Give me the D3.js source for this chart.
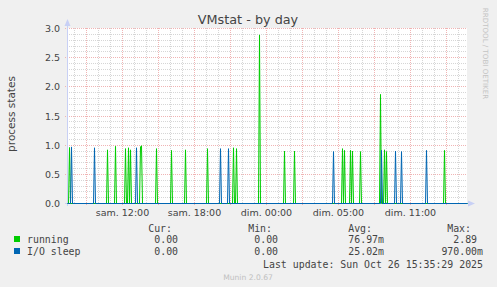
<!DOCTYPE html>
<html>
<head>
<meta charset="utf-8">
<script src="https://cdn.jsdelivr.net/npm/d3@7"></script>
<style>
  html, body { margin: 0; padding: 0; background: #f0f0f0; }
  svg { display: block; }
  text { font-family: "DejaVu Sans", sans-serif; fill: #444; }
  .mono { font-family: "DejaVu Sans Mono", monospace; font-size: 9.9px; }
</style>
</head>
<body>
<svg id="chart" width="497" height="287"></svg>
<script>
// Chart data (hours are counted from saturday 00:00, continuous)
const titleText = "VMstat - by day";
const yLabel = "process states";
const yTicks = [0, 0.5, 1, 1.5, 2, 2.5, 3];
const xTickHours = [12, 18, 24, 30, 36];
const xTickLabels = ["sam. 12:00", "sam. 18:00", "dim. 00:00", "dim. 05:00", "dim. 11:00"];

const runningTimes = [7.61, 10.775, 11.44, 12.275, 12.525, 12.69, 13.525, 13.61, 14.86, 16.11,
  17.275, 19.11, 21.275, 21.525, 23.44, 25.525, 26.36, 30.36, 30.525, 31.025,
  31.19, 31.86, 33.525, 33.86, 34.0, 38.81];
const runningValues = [0.96, 0.92, 0.98, 0.94, 0.955, 0.92, 0.97, 0.99, 0.94, 0.91,
  0.92, 0.94, 0.955, 0.94, 2.89, 0.90, 0.90, 0.94, 0.91, 0.91,
  0.90, 0.89, 1.87, 0.92, 0.89, 0.91];

const ioTimes = [7.775, 9.69, 13.19, 20.19, 20.86, 29.61, 33.61, 34.775, 35.29, 37.36];
const ioValues = [0.97, 0.955, 0.955, 0.94, 0.94, 0.89, 0.91, 0.90, 0.89, 0.91];

const legendNames = ["running", "I/O sleep"];
const legendColors = ["#00cc00", "#0066b3"];
const legendCur = ["0.00\u00a0", "0.00\u00a0"];
const legendMin = ["0.00\u00a0", "0.00\u00a0"];
const legendAvg = ["76.97m", "25.02m"];
const legendMax = ["2.89\u00a0", "970.00m"];

// Layout
const plotLeft = 67, plotRight = 467, plotTop = 28, plotBottom = 203;
const tStart = 7 + 25 / 60;            // left edge of the plot
const step = 1 / 12;                   // one sample = 5 minutes = 1px

const svg = d3.select('#chart');
const x = d3.scaleLinear().domain([tStart, tStart + 400 * step]).range([plotLeft + 0.5, plotRight + 0.5]);
const y = d3.scaleLinear().domain([0, 3]).range([plotBottom + 0.5, plotTop + 0.5]);
const px = v => Math.round(x(v) - 0.5) + 0.5;
const py = v => Math.round(y(v) - 0.5) + 0.5;

// Canvas
svg.append('rect')
  .attr('x', plotLeft).attr('y', plotTop)
  .attr('width', plotRight - plotLeft).attr('height', plotBottom - plotTop)
  .attr('fill', '#ffffff');

// Minor grid
const minorColor = '#d6d6d6', majorColor = '#f0b4b4';
const grid = svg.append('g').attr('shape-rendering', 'crispEdges');
d3.range(8, 41).forEach(h => {
  if (h % 3 === 0) return;
  grid.append('line')
    .attr('x1', px(h)).attr('x2', px(h))
    .attr('y1', plotTop).attr('y2', plotBottom)
    .attr('stroke', minorColor).attr('stroke-dasharray', '1,1');
});
d3.range(1, 30).forEach(i => {
  if (i % 5 === 0) return;
  grid.append('line')
    .attr('x1', plotLeft).attr('x2', plotRight)
    .attr('y1', py(i / 10)).attr('y2', py(i / 10))
    .attr('stroke', minorColor).attr('stroke-dasharray', '1,1');
});

// Major grid
d3.range(9, 41, 3).forEach(h => {
  grid.append('line')
    .attr('x1', px(h)).attr('x2', px(h))
    .attr('y1', plotTop).attr('y2', plotBottom + 3)
    .attr('stroke', majorColor).attr('stroke-dasharray', '1,1');
});
yTicks.forEach(v => {
  if (v === 0) return;
  grid.append('line')
    .attr('x1', plotLeft - 2).attr('x2', plotRight)
    .attr('y1', py(v)).attr('y2', py(v))
    .attr('stroke', majorColor).attr('stroke-dasharray', '1,1');
});

// Axes
const axisColor = '#c8d0f5';
grid.append('line')
  .attr('x1', plotLeft + 0.5).attr('x2', plotLeft + 0.5)
  .attr('y1', plotTop - 4).attr('y2', plotBottom + 3)
  .attr('stroke', axisColor);
grid.append('line')
  .attr('x1', plotLeft - 2).attr('x2', plotRight + 3)
  .attr('y1', plotBottom + 0.5).attr('y2', plotBottom + 0.5)
  .attr('stroke', axisColor);
svg.append('path')
  .attr('d', `M${plotLeft + 0.5},${plotTop - 9} L${plotLeft - 2.5},${plotTop - 2} L${plotLeft + 3.5},${plotTop - 2} Z`)
  .attr('fill', axisColor);
svg.append('path')
  .attr('d', `M${plotRight + 8},${plotBottom + 0.5} L${plotRight + 1},${plotBottom - 2.5} L${plotRight + 1},${plotBottom + 3.5} Z`)
  .attr('fill', axisColor);

// Tick labels
svg.append('g').selectAll('text')
  .data(yTicks)
  .enter().append('text')
  .attr('x', plotLeft - 7)
  .attr('y', d => py(d) + 3.5)
  .attr('text-anchor', 'end')
  .style('font-size', '9.5px')
  .text(d => d.toFixed(1));

svg.append('g').selectAll('text')
  .data(xTickHours)
  .enter().append('text')
  .attr('x', d => px(d))
  .attr('y', 216)
  .attr('text-anchor', 'middle')
  .style('font-size', '9.5px')
  .text((d, i) => xTickLabels[i]);

// Series: samples are zero except at the spikes
function seriesPoints(times, values) {
  const samples = new Map();
  times.forEach((t, i) => samples.set(Math.round((t - tStart) / step), values[i]));
  const idx = new Set([0, 400]);
  samples.forEach((v, k) => { idx.add(k - 1); idx.add(k); idx.add(k + 1); });
  return Array.from(idx).filter(k => k >= 0 && k <= 400).sort((a, b) => a - b)
    .map(k => [tStart + k * step, samples.get(k) || 0]);
}

const line = d3.line().x(d => x(d[0])).y(d => y(d[1]));

svg.append('path')
  .datum(seriesPoints(runningTimes, runningValues))
  .attr('d', line)
  .attr('fill', 'none')
  .attr('stroke', legendColors[0])
  .attr('stroke-width', 1);

svg.append('path')
  .datum(seriesPoints(ioTimes, ioValues))
  .attr('d', line)
  .attr('fill', 'none')
  .attr('stroke', legendColors[1])
  .attr('stroke-width', 1);

// Title and labels
svg.append('text')
  .attr('x', 248).attr('y', 24)
  .attr('text-anchor', 'middle')
  .style('font-size', '12.8px')
  .text(titleText);

svg.append('text')
  .attr('transform', 'translate(14.5,114) rotate(-90)')
  .attr('text-anchor', 'middle')
  .style('font-size', '10.5px')
  .text(yLabel);

svg.append('text')
  .attr('transform', 'translate(482.5,53.5) rotate(90)')
  .attr('text-anchor', 'middle')
  .style('font-size', '7.1px')
  .style('fill', '#c4c4c4')
  .text('RRDTOOL / TOBI OETIKER');

// Legend
const colEnds = [184, 284, 384, 483];
const headers = ["Cur:", "Min:", "Avg:", "Max:"];
headers.forEach((h, i) => {
  svg.append('text').attr('class', 'mono')
    .attr('x', colEnds[i] - 12).attr('y', 232)
    .attr('text-anchor', 'end')
    .text(h);
});

legendNames.forEach((name, i) => {
  const yy = 243 + i * 12;
  svg.append('rect')
    .attr('x', 14).attr('y', yy - 7)
    .attr('width', 6).attr('height', 6)
    .attr('fill', legendColors[i]);
  svg.append('text').attr('class', 'mono')
    .attr('x', 27).attr('y', yy)
    .text(name);
  [legendCur[i], legendMin[i], legendAvg[i], legendMax[i]].forEach((v, j) => {
    svg.append('text').attr('class', 'mono')
      .attr('x', colEnds[j]).attr('y', yy)
      .attr('text-anchor', 'end')
      .text(v);
  });
});

svg.append('text').attr('class', 'mono')
  .attr('x', 483).attr('y', 268)
  .attr('text-anchor', 'end')
  .text('Last update: Sun Oct 26 15:35:29 2025');

svg.append('text')
  .attr('x', 248).attr('y', 280)
  .attr('text-anchor', 'middle')
  .style('font-size', '7.6px')
  .style('fill', '#c0c0c0')
  .text('Munin 2.0.67');
</script>
</body>
</html>
